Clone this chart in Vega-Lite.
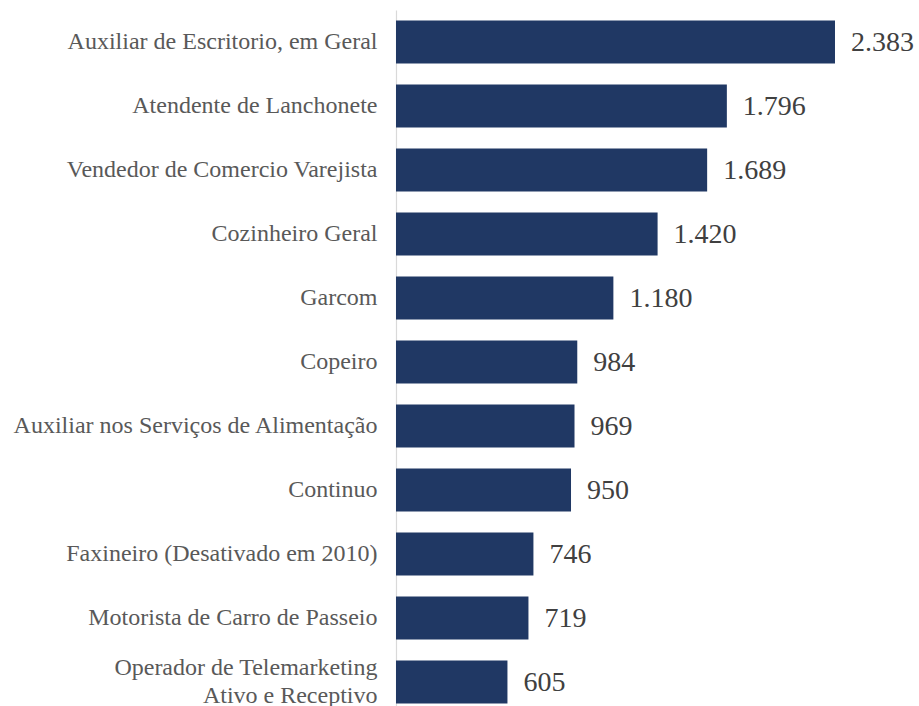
{
  "$schema": "https://vega.github.io/schema/vega-lite/v6.json",
  "autosize": {"type": "none"},
  "padding": {"left": 396, "top": 10, "right": 0, "bottom": 0},
  "width": 523,
  "height": 704,
  "background": "white",
  "config": {
    "view": {"stroke": null},
    "locale": {"number": {"decimal": ",", "thousands": ".", "grouping": [3], "currency": ["R$", ""]}}
  },
  "data": {
    "values": [
      {"ocupacao": "Auxiliar de Escritorio, em Geral", "valor": 2383},
      {"ocupacao": "Atendente de Lanchonete", "valor": 1796},
      {"ocupacao": "Vendedor de Comercio Varejista", "valor": 1689},
      {"ocupacao": "Cozinheiro Geral", "valor": 1420},
      {"ocupacao": "Garcom", "valor": 1180},
      {"ocupacao": "Copeiro", "valor": 984},
      {"ocupacao": "Auxiliar nos Serviços de Alimentação", "valor": 969},
      {"ocupacao": "Continuo", "valor": 950},
      {"ocupacao": "Faxineiro (Desativado em 2010)", "valor": 746},
      {"ocupacao": "Motorista de Carro de Passeio", "valor": 719},
      {"ocupacao": "Operador de Telemarketing|Ativo e Receptivo", "valor": 605}
    ]
  },
  "encoding": {
    "y": {
      "field": "ocupacao",
      "type": "nominal",
      "sort": null,
      "scale": {"paddingInner": 0.33, "paddingOuter": 0.165},
      "axis": {
        "title": null,
        "ticks": false,
        "domainColor": "#d9d9d9",
        "domainWidth": 1.2,
        "labelFont": "Liberation Serif",
        "labelFontSize": 24,
        "labelColor": "#595959",
        "labelPadding": 19,
        "labelLimit": 0,
        "labelLineHeight": 28,
        "labelOffset": {"condition": {"test": "indexof(datum.label, '|') >= 0", "value": -14}, "value": 0},
        "labelExpr": "split(datum.label, '|')"
      }
    },
    "x": {
      "field": "valor",
      "type": "quantitative",
      "scale": {"domain": [0, 2839]},
      "axis": null
    }
  },
  "layer": [
    {"mark": {"type": "bar", "color": "#203864"}},
    {
      "mark": {"type": "text", "align": "left", "baseline": "middle", "dx": 16, "dy": 1, "font": "Liberation Serif", "fontSize": 28, "color": "#404040"},
      "encoding": {"text": {"field": "valor", "type": "quantitative", "format": ",d"}}
    }
  ]
}
